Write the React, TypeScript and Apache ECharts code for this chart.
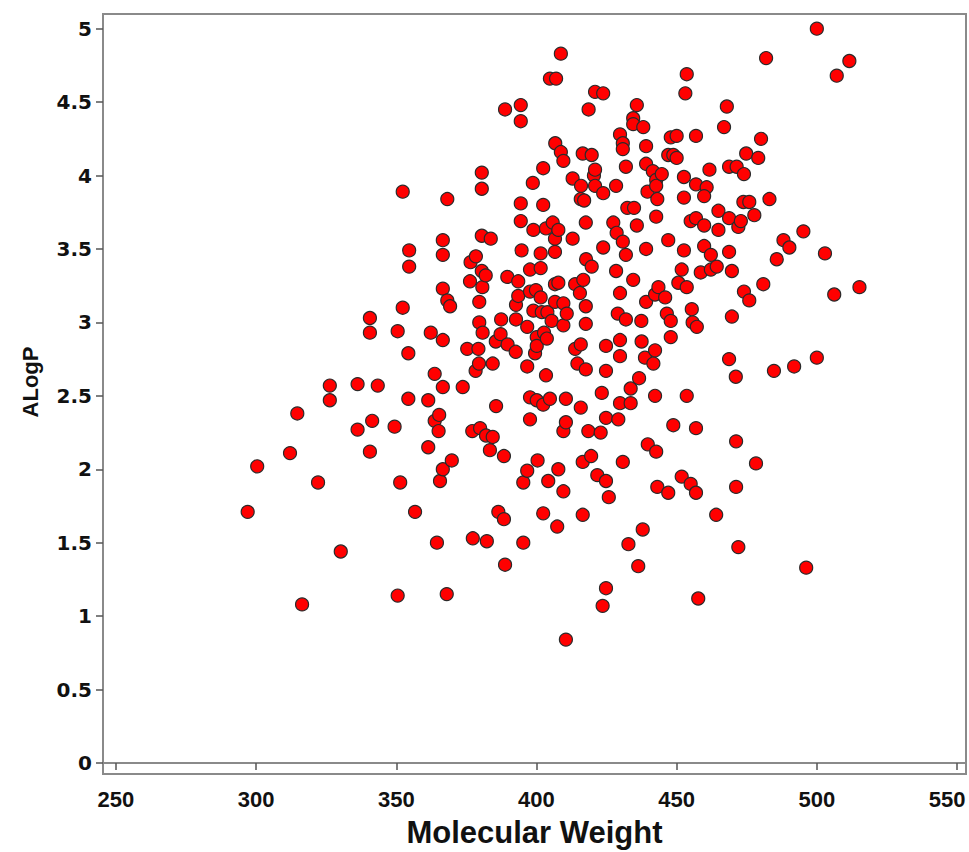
import React, { useEffect, useRef } from "react";
import * as echarts from "echarts";

const molecularWeight = [
  297.0, 300.4, 312.1, 314.7, 322.1, 316.4, 330.2, 326.3, 326.3, 336.2,
  336.2, 343.4, 340.6, 340.6, 340.6, 341.4, 350.5, 352.3, 352.3, 349.4,
  350.5, 351.4, 354.3, 354.3, 354.6, 354.6, 356.7, 361.4, 361.4, 362.3,
  363.7, 363.7, 364.5, 365.3, 365.1, 365.6, 366.6, 366.6, 366.6, 366.6,
  366.6, 366.6, 368.2, 369.2, 368.2, 368.0, 369.8, 373.7, 375.3, 376.5,
  378.4, 376.3, 377.1, 377.3, 378.3, 379.5, 379.3, 379.6, 379.6, 379.9,
  380.5, 380.5, 380.5, 380.5, 380.7, 380.8, 381.9, 382.0, 382.3, 383.7,
  383.4, 384.4, 384.4, 385.5, 385.6, 386.4, 387.2, 387.4, 388.4, 388.4,
  388.8, 388.8, 389.6, 389.7, 392.6, 392.7, 392.7, 393.5, 393.5, 394.4,
  394.4, 394.4, 394.4, 394.7, 395.3, 395.3, 396.7, 396.7, 396.7, 397.7,
  397.7, 397.7, 397.7, 398.7, 398.9, 398.9, 399.5, 399.8, 400.1, 400.1,
  400.1, 400.4, 401.5, 401.5, 401.5, 401.9, 402.4, 402.4, 402.4, 402.4,
  402.7, 403.4, 403.4, 403.7, 403.9, 404.2, 404.8, 407.0, 404.8, 405.4,
  405.8, 406.6, 406.6, 406.6, 406.6, 406.7, 407.4, 407.8, 407.8, 407.8,
  408.7, 408.7, 409.6, 409.6, 409.6, 409.6, 409.6, 410.5, 410.5, 410.5,
  410.8, 412.9, 412.9, 413.8, 413.8, 414.6, 415.5, 415.8, 415.8, 415.8,
  415.9, 416.5, 416.5, 416.5, 416.7, 417.0, 417.6, 417.6, 417.6, 417.6,
  417.7, 418.5, 418.6, 419.5, 419.7, 419.7, 420.5, 420.9, 420.9, 420.9,
  421.7, 422.9, 423.3, 423.6, 423.8, 423.8, 423.8, 424.8, 424.8, 424.8,
  424.8, 424.8, 425.8, 427.4, 428.4, 428.4, 428.6, 429.0, 429.2, 429.8,
  429.8, 429.8, 429.8, 429.8, 430.8, 430.8, 430.8, 430.8, 431.9, 431.9,
  431.9, 432.4, 432.8, 433.6, 433.6, 434.5, 434.5, 434.5, 434.8, 435.8,
  435.8, 436.3, 436.6, 437.4, 437.5, 437.9, 438.1, 438.7, 439.1, 439.1,
  439.1, 439.1, 439.6, 439.7, 441.5, 441.7, 442.3, 442.3, 442.3, 442.7,
  442.7, 442.7, 442.7, 443.1, 443.5, 443.1, 444.7, 445.9, 446.5, 447.0,
  447.0, 447.0, 447.9, 447.9, 447.9, 448.8, 448.8, 450.0, 450.0, 450.6,
  451.8, 451.8, 452.6, 452.6, 452.6, 453.1, 453.6, 453.6, 453.6, 455.0,
  455.0, 455.4, 455.7, 456.9, 456.9, 456.9, 456.9, 456.9, 457.2, 457.7,
  458.6, 460.7, 459.8, 459.8, 459.8, 461.7, 462.2, 462.2, 464.1, 464.3,
  464.9, 464.9, 466.9, 467.9, 468.7, 468.7, 468.7, 468.7, 469.7, 469.7,
  471.1, 471.2, 471.2, 471.4, 472.0, 472.0, 472.9, 473.8, 474.0, 474.0,
  474.8, 475.9, 475.9, 477.7, 478.3, 479.1, 480.1, 480.9, 481.9, 483.1,
  484.7, 485.7, 488.1, 490.2, 491.9, 495.2, 496.2, 500.0, 500.0, 502.9,
  506.2, 507.1, 511.6, 515.2,
];

const aLogP = [
  1.71, 2.02, 2.11, 2.38, 1.91, 1.08, 1.44, 2.57, 2.47, 2.58,
  2.27, 2.57, 3.03, 2.93, 2.12, 2.33, 2.94, 3.10, 3.89, 2.29,
  1.14, 1.91, 2.79, 2.48, 3.49, 3.38, 1.71, 2.15, 2.47, 2.93,
  2.65, 2.33, 1.50, 2.37, 2.26, 1.92, 2.00, 3.56, 3.46, 3.23,
  2.88, 2.56, 3.15, 3.11, 3.84, 1.15, 2.06, 2.56, 2.82, 3.41,
  3.45, 3.28, 2.26, 1.53, 2.67, 2.72, 2.82, 3.14, 3.00, 2.28,
  4.02, 3.91, 3.59, 3.35, 3.24, 2.93, 3.32, 2.23, 1.51, 3.57,
  2.13, 2.72, 2.22, 2.87, 2.43, 1.71, 2.92, 3.02, 2.09, 1.66,
  4.45, 1.35, 3.31, 2.85, 2.80, 3.12, 3.02, 3.28, 3.18, 4.48,
  4.37, 3.81, 3.69, 3.49, 1.91, 1.50, 2.97, 2.70, 1.99, 3.36,
  3.21, 2.49, 2.34, 3.95, 3.63, 3.08, 2.79, 3.22, 2.90, 2.84,
  2.47, 2.06, 3.47, 3.37, 3.17, 3.07, 4.05, 3.80, 2.44, 1.70,
  2.93, 3.64, 2.64, 2.89, 3.07, 1.92, 4.66, 4.66, 2.48, 3.01,
  3.68, 3.57, 3.48, 3.26, 3.14, 4.22, 1.61, 3.63, 3.27, 2.00,
  4.83, 4.16, 4.10, 3.13, 2.98, 2.26, 1.85, 0.84, 2.48, 2.32,
  3.06, 3.98, 3.57, 3.26, 2.82, 2.72, 3.20, 2.85, 2.42, 3.84,
  3.93, 4.15, 2.05, 1.69, 3.29, 3.83, 3.68, 3.11, 2.99, 2.68,
  3.43, 2.26, 4.45, 2.09, 4.14, 3.38, 4.00, 4.04, 4.57, 3.93,
  1.96, 2.25, 2.52, 1.07, 4.56, 3.88, 3.51, 2.84, 2.67, 2.35,
  1.92, 1.19, 1.81, 3.68, 3.93, 3.35, 3.61, 3.06, 2.34, 4.28,
  3.20, 2.88, 2.77, 2.45, 4.22, 4.18, 3.55, 2.05, 4.06, 3.46,
  3.02, 3.78, 1.49, 2.55, 2.45, 4.39, 4.35, 3.29, 3.78, 4.48,
  3.66, 1.34, 2.62, 3.01, 2.87, 1.59, 4.33, 2.76, 4.20, 4.08,
  3.50, 3.14, 3.89, 2.17, 4.03, 2.72, 3.19, 2.81, 2.50, 3.97,
  3.93, 3.72, 2.12, 3.84, 3.24, 1.88, 4.01, 3.17, 3.06, 4.14,
  3.56, 1.84, 4.26, 3.01, 2.90, 4.14, 2.30, 4.27, 4.12, 3.27,
  3.36, 1.95, 3.99, 3.85, 3.49, 4.56, 4.69, 3.24, 2.50, 3.69,
  1.90, 3.09, 3.00, 4.27, 3.94, 3.71, 2.28, 1.84, 2.97, 1.12,
  3.34, 3.92, 3.86, 3.66, 3.52, 4.04, 3.46, 3.36, 1.69, 3.38,
  3.76, 3.63, 4.33, 4.47, 4.06, 3.71, 3.48, 2.75, 3.35, 3.04,
  2.63, 2.19, 1.88, 4.06, 3.65, 1.47, 3.69, 3.82, 4.01, 3.21,
  4.15, 3.82, 3.15, 3.73, 2.04, 4.12, 4.25, 3.26, 4.80, 3.84,
  2.67, 3.43, 3.56, 3.51, 2.70, 3.62, 1.33, 5.00, 2.76, 3.47,
  3.19, 4.68, 4.78, 3.24,
];

const xTicks = [250, 300, 350, 400, 450, 500, 550];
const yTicks = [0, 0.5, 1, 1.5, 2, 2.5, 3, 3.5, 4, 4.5, 5];

export default function App() {
  const ref = useRef<HTMLDivElement>(null);
  useEffect(() => {
    if (!ref.current) return;
    const chart = echarts.init(ref.current, null, { renderer: "svg" });
    const data = molecularWeight.map((x, i) => [x, aLogP[i]]);
    const frame = "#8a8a8a";
    const xLabelStyle = {
      fontFamily: "Liberation Sans",
      fontWeight: "bold",
      fontSize: 22,
      color: "#111",
    };
    const lastX = xTicks[xTicks.length - 1];
    chart.setOption({
      animation: false,
      backgroundColor: "#ffffff",
      grid: {
        left: 103,
        right: 3,
        top: 14,
        bottom: 78,
        outerBoundsMode: "none",
        containLabel: false,
        show: true,
        borderColor: frame,
        borderWidth: 2,
        backgroundColor: "transparent",
      },
      xAxis: {
        type: "value",
        min: 245.4,
        max: 553.2,
        name: "Molecular Weight",
        nameLocation: "middle",
        nameGap: 43,
        nameTextStyle: {
          fontFamily: "Liberation Sans",
          fontWeight: "bold",
          fontSize: 31,
          color: "#111",
        },
        axisLine: { show: true, lineStyle: { color: frame, width: 2 } },
        axisTick: {
          show: true,
          length: 7,
          customValues: xTicks,
          lineStyle: { color: "#555", width: 1.5 },
        },
        axisLabel: {
          customValues: xTicks,
          margin: 14,
          ...xLabelStyle,
          formatter: (v: number) =>
            v === lastX ? `{edge|${v}}` : `{n|${v}}`,
          rich: {
            n: { ...xLabelStyle },
            edge: { ...xLabelStyle, padding: [0, 20, 0, 0] },
          },
        },
        splitLine: { show: false },
      },
      yAxis: {
        type: "value",
        min: -0.075,
        max: 5.1,
        name: "ALogP",
        nameLocation: "middle",
        nameRotate: 90,
        nameGap: 62,
        nameTextStyle: {
          fontFamily: "Liberation Sans",
          fontWeight: "bold",
          fontSize: 22,
          color: "#111",
          padding: [0, 0, 0, 24],
        },
        axisLine: { show: true, lineStyle: { color: frame, width: 2 } },
        axisTick: {
          show: true,
          length: 7,
          customValues: yTicks,
          lineStyle: { color: "#555", width: 1.5 },
        },
        axisLabel: {
          customValues: yTicks,
          margin: 11,
          fontFamily: "DejaVu Sans",
          fontWeight: "bold",
          fontSize: 20,
          color: "#111",
        },
        splitLine: { show: false },
      },
      series: [
        {
          type: "scatter",
          data,
          symbol: "circle",
          symbolSize: 13,
          itemStyle: {
            color: "#ff0000",
            borderColor: "#2a2a2a",
            borderWidth: 1.2,
            opacity: 1,
          },
        },
      ],
    });
    return () => chart.dispose();
  }, []);
  return (
    <div
      ref={ref}
      style={{ position: "fixed", left: 0, top: 0, width: 969, height: 852 }}
    />
  );
}
